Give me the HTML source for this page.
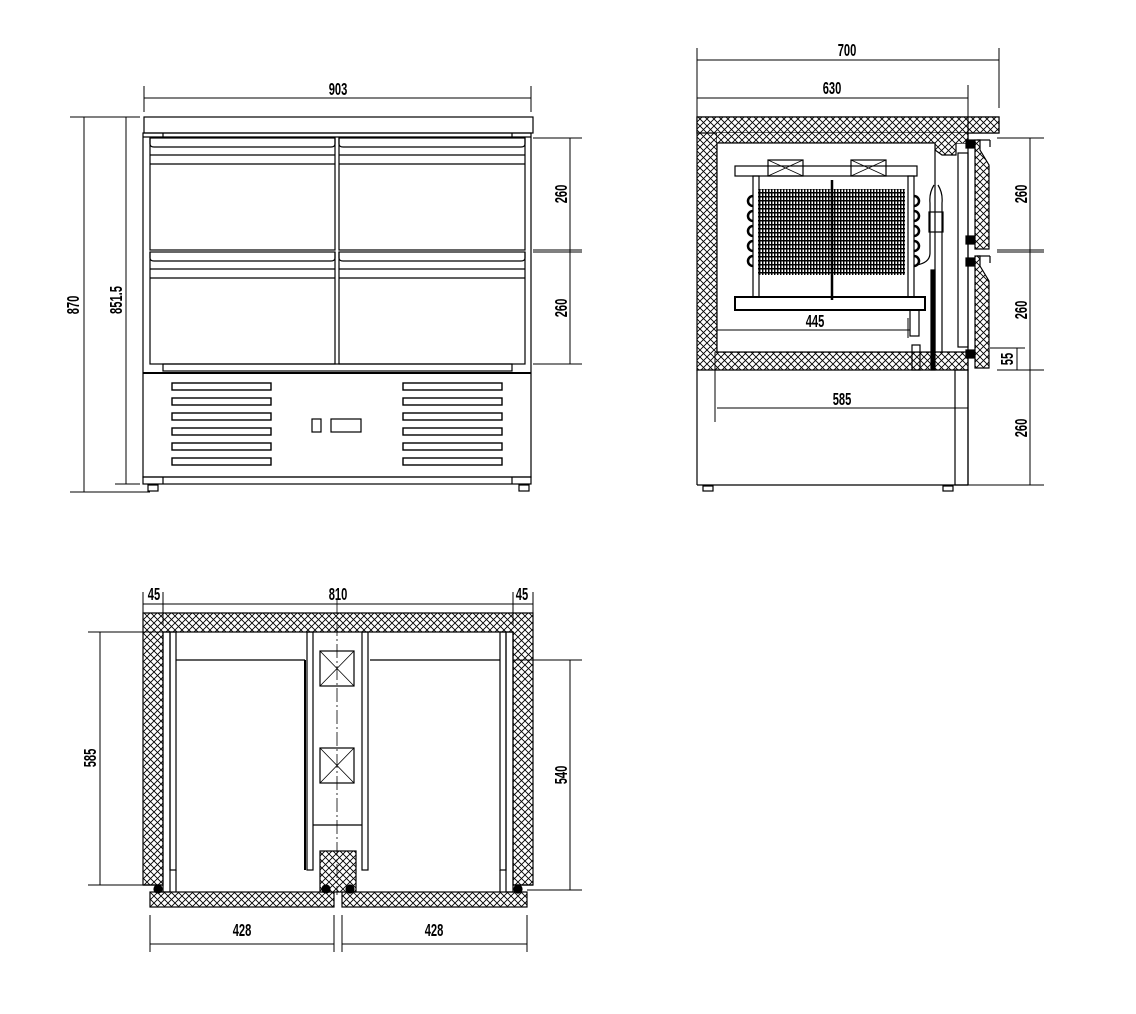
<!DOCTYPE html>
<html><head><meta charset="utf-8"><style>
html,body{margin:0;padding:0;background:#fff;}
svg{display:block;}
text{font-family:"Liberation Sans",sans-serif;font-weight:bold;font-size:18px;fill:#000;}
</style></head><body>
<svg width="1136" height="1014" viewBox="0 0 1136 1014" xmlns="http://www.w3.org/2000/svg">
<defs>
<pattern id="h" width="7" height="7" patternUnits="userSpaceOnUse">
<rect width="7" height="7" fill="#fff"/>
<path d="M0 0L7 7M7 0L0 7" stroke="#000" stroke-width="0.9"/>
</pattern>
<pattern id="g" width="3" height="4" patternUnits="userSpaceOnUse">
<rect width="3" height="4" fill="#fff"/>
<path d="M0.7 0V4M0 0.7H3" stroke="#000" stroke-width="1.5"/>
</pattern>
</defs>
<g fill="none" stroke="#000" stroke-width="1.2">
<!-- ============ FRONT VIEW ============ -->
<rect x="144" y="117" width="389" height="16"/>
<rect x="143" y="133" width="388" height="344"/>
<line x1="163" y1="133" x2="163" y2="137"/><line x1="512" y1="133" x2="512" y2="137"/>
<line x1="143" y1="137" x2="531" y2="137"/>
<g>
<rect x="150" y="138" width="185" height="112"/>
<path d="M150 138v6q0 3 4 3h177q4 0 4-3v-6"/><line x1="150" y1="155" x2="335" y2="155"/><line x1="150" y1="164" x2="335" y2="164"/>
<rect x="339" y="138" width="186" height="112"/>
<path d="M339 138v6q0 3 4 3h178q4 0 4-3v-6"/><line x1="339" y1="155" x2="525" y2="155"/><line x1="339" y1="164" x2="525" y2="164"/>
<rect x="150" y="252" width="185" height="112"/>
<path d="M150 252v6q0 3 4 3h177q4 0 4-3v-6"/><line x1="150" y1="269" x2="335" y2="269"/><line x1="150" y1="278" x2="335" y2="278"/>
<rect x="339" y="252" width="186" height="112"/>
<path d="M339 252v6q0 3 4 3h178q4 0 4-3v-6"/><line x1="339" y1="269" x2="525" y2="269"/><line x1="339" y1="278" x2="525" y2="278"/>
</g>
<rect x="163" y="364" width="349" height="7"/>
<line x1="143" y1="373" x2="531" y2="373" stroke-width="2"/>
<g stroke-width="1.4">
<rect x="172" y="383" width="99" height="7"/><rect x="172" y="398" width="99" height="7"/><rect x="172" y="413" width="99" height="7"/><rect x="172" y="428" width="99" height="7"/><rect x="172" y="443" width="99" height="7"/><rect x="172" y="458" width="99" height="7"/>
<rect x="403" y="383" width="99" height="7"/><rect x="403" y="398" width="99" height="7"/><rect x="403" y="413" width="99" height="7"/><rect x="403" y="428" width="99" height="7"/><rect x="403" y="443" width="99" height="7"/><rect x="403" y="458" width="99" height="7"/>
</g>
<rect x="312" y="419" width="9" height="13"/><rect x="331" y="419" width="30" height="13"/>
<rect x="143" y="477" width="388" height="7"/>
<line x1="163" y1="477" x2="163" y2="484"/><line x1="512" y1="477" x2="512" y2="484"/>
<rect x="148" y="485" width="10" height="6"/><rect x="519" y="485" width="10" height="6"/>
<line x1="144" y1="98" x2="531" y2="98" stroke-width="1"/>
<line x1="144" y1="86" x2="144" y2="112" stroke-width="1"/><line x1="531" y1="86" x2="531" y2="112" stroke-width="1"/>
<line x1="84" y1="117" x2="84" y2="492" stroke-width="1"/>
<line x1="70" y1="117" x2="140" y2="117" stroke-width="1"/><line x1="70" y1="492" x2="150" y2="492" stroke-width="1"/>
<line x1="126" y1="117" x2="126" y2="484" stroke-width="1"/><line x1="115" y1="484" x2="140" y2="484" stroke-width="1"/>
<line x1="570" y1="138" x2="570" y2="364" stroke-width="1"/>
<line x1="533" y1="138" x2="582" y2="138" stroke-width="1"/><line x1="533" y1="250" x2="582" y2="250" stroke-width="1"/><line x1="533" y1="252" x2="582" y2="252" stroke-width="1"/><line x1="533" y1="364" x2="582" y2="364" stroke-width="1"/>

<!-- ============ SIDE VIEW ============ -->
<path d="M697 117H999V133H968V143H935V125H717V352H968V370H697Z" fill="url(#h)"/>
<rect x="697" y="117" width="302" height="16" fill="url(#h)"/>
<rect x="717" y="133" width="250" height="10" fill="url(#h)" stroke="none"/>
<path d="M717 143H935V150L942 155H956V143" fill="url(#h)"/>
<rect x="717" y="143" width="218" height="209" fill="#fff"/>
<line x1="697" y1="370" x2="697" y2="485"/>
<line x1="697" y1="485" x2="968" y2="485"/>
<rect x="955" y="370" width="13" height="115"/>
<line x1="968" y1="117" x2="968" y2="485"/>
<rect x="958" y="153" width="10" height="194"/>
<path d="M975 140H980V150L989 165V249H975Z" fill="url(#h)"/>
<path d="M975 256H980V266L989 281V368H975Z" fill="url(#h)"/>
<rect x="966" y="140" width="8" height="8" fill="#000"/><rect x="966" y="236" width="8" height="8" fill="#000"/>
<rect x="966" y="258" width="8" height="8" fill="#000"/><rect x="966" y="350" width="8" height="8" fill="#000"/>
<line x1="977" y1="140" x2="990" y2="140"/><line x1="990" y1="140" x2="990" y2="147"/>
<line x1="977" y1="256" x2="990" y2="256"/><line x1="990" y1="256" x2="990" y2="263"/>
<rect x="735" y="166" width="182" height="10"/>
<rect x="768" y="160" width="35" height="16"/><path d="M768 160L803 176M803 160L768 176" stroke-width="0.8"/>
<rect x="851" y="160" width="35" height="16"/><path d="M851 160L886 176M886 160L851 176" stroke-width="0.8"/>
<rect x="758" y="189" width="147" height="86" fill="url(#g)" stroke="none"/>
<line x1="832" y1="180" x2="832" y2="300" stroke-width="2.5"/>
<rect x="753" y="176" width="6" height="121"/><rect x="908" y="176" width="6" height="121"/>
<g stroke-width="2.5">
<path d="M753 196a5 5 0 0 0 0 10M753 211a5 5 0 0 0 0 10M753 226a5 5 0 0 0 0 10M753 241a5 5 0 0 0 0 10M753 256a5 5 0 0 0 0 10"/>
<path d="M914 196a5 5 0 0 1 0 10M914 211a5 5 0 0 1 0 10M914 226a5 5 0 0 1 0 10M914 241a5 5 0 0 1 0 10M914 256a5 5 0 0 1 0 10"/>
</g>
<rect x="735" y="297" width="190" height="13" stroke-width="2"/>
<rect x="910" y="310" width="9" height="26"/>
<path d="M934 185q-5 8-4 18v50q0 10-14 12M938 185q5 8 4 18v150"/>
<rect x="929" y="212" width="14" height="20"/>
<rect x="931" y="270" width="4" height="100" fill="#000"/>
<rect x="912" y="345" width="8" height="25"/>
<line x1="697" y1="60" x2="999" y2="60" stroke-width="1"/>
<line x1="697" y1="48" x2="697" y2="117" stroke-width="1"/><line x1="999" y1="48" x2="999" y2="108" stroke-width="1"/>
<line x1="697" y1="98" x2="968" y2="98" stroke-width="1"/><line x1="968" y1="85" x2="968" y2="117" stroke-width="1"/>
<line x1="717" y1="330" x2="910" y2="330" stroke-width="1"/><line x1="908" y1="318" x2="908" y2="338" stroke-width="1"/>
<line x1="717" y1="408" x2="968" y2="408" stroke-width="1"/><line x1="715" y1="352" x2="715" y2="422" stroke-width="1"/>
<line x1="1030" y1="138" x2="1030" y2="485" stroke-width="1"/>
<line x1="997" y1="138" x2="1044" y2="138" stroke-width="1"/><line x1="997" y1="250" x2="1044" y2="250" stroke-width="1"/><line x1="997" y1="252" x2="1044" y2="252" stroke-width="1"/>
<line x1="997" y1="370" x2="1044" y2="370" stroke-width="1"/><line x1="968" y1="485" x2="1044" y2="485" stroke-width="1"/>
<line x1="1017" y1="348" x2="1017" y2="370" stroke-width="1"/><line x1="990" y1="348" x2="1025" y2="348" stroke-width="1"/>
<rect x="703" y="486" width="10" height="5"/><rect x="943" y="486" width="10" height="5"/>

<!-- ============ PLAN VIEW ============ -->
<path d="M143 613H533V885H513V632H163V885H143Z" fill="url(#h)"/>
<rect x="150" y="892" width="184" height="15" fill="url(#h)"/>
<rect x="342" y="892" width="185" height="15" fill="url(#h)"/>
<rect x="320" y="851" width="36" height="41" fill="url(#h)"/>
<rect x="163" y="632" width="7" height="260"/><rect x="170" y="632" width="6" height="238"/>
<rect x="500" y="632" width="6" height="238"/><rect x="506" y="632" width="7" height="260"/>
<rect x="307" y="632" width="6" height="238"/><rect x="362" y="632" width="6" height="238"/>
<line x1="176" y1="660" x2="305" y2="660"/><line x1="370" y1="660" x2="500" y2="660"/>
<line x1="305" y1="660" x2="305" y2="870" stroke-width="2"/>
<line x1="313" y1="825" x2="362" y2="825"/>
<line x1="176" y1="870" x2="176" y2="892"/><line x1="500" y1="870" x2="500" y2="892"/>
<line x1="143" y1="885" x2="163" y2="885"/><line x1="513" y1="885" x2="533" y2="885"/>
<rect x="320" y="651" width="34" height="35"/><path d="M320 651L354 686M354 651L320 686" stroke-width="0.8"/>
<rect x="320" y="748" width="34" height="35"/><path d="M320 748L354 783M354 748L320 783" stroke-width="0.8"/>
<line x1="337" y1="600" x2="337" y2="895" stroke-width="0.8" stroke-dasharray="14 3 2 3"/>
<circle cx="158" cy="889" r="4" fill="#000"/><circle cx="326" cy="889" r="4" fill="#000"/><circle cx="350" cy="889" r="4" fill="#000"/><circle cx="518" cy="889" r="4" fill="#000"/>
<line x1="143" y1="604" x2="533" y2="604" stroke-width="1"/>
<line x1="143" y1="592" x2="143" y2="613" stroke-width="1"/><line x1="163" y1="592" x2="163" y2="625" stroke-width="1"/>
<line x1="513" y1="592" x2="513" y2="625" stroke-width="1"/><line x1="533" y1="592" x2="533" y2="613" stroke-width="1"/>
<line x1="100" y1="632" x2="100" y2="885" stroke-width="1"/>
<line x1="88" y1="632" x2="163" y2="632" stroke-width="1"/><line x1="88" y1="885" x2="143" y2="885" stroke-width="1"/>
<line x1="570" y1="660" x2="570" y2="890" stroke-width="1"/>
<line x1="513" y1="660" x2="582" y2="660" stroke-width="1"/><line x1="527" y1="890" x2="582" y2="890" stroke-width="1"/>
<line x1="150" y1="944" x2="334" y2="944" stroke-width="1"/><line x1="342" y1="944" x2="527" y2="944" stroke-width="1"/>
<line x1="150" y1="915" x2="150" y2="952" stroke-width="1"/><line x1="334" y1="915" x2="334" y2="952" stroke-width="1"/>
<line x1="342" y1="915" x2="342" y2="952" stroke-width="1"/><line x1="527" y1="915" x2="527" y2="952" stroke-width="1"/>
</g>
<g>
<text transform="translate(338 95) scale(0.62 1)" text-anchor="middle">903</text>
<text transform="translate(79 305) rotate(-90) scale(0.62 1)" text-anchor="middle">870</text>
<text transform="translate(122 300) rotate(-90) scale(0.62 1)" text-anchor="middle">851.5</text>
<text transform="translate(567 194) rotate(-90) scale(0.62 1)" text-anchor="middle">260</text>
<text transform="translate(567 308) rotate(-90) scale(0.62 1)" text-anchor="middle">260</text>
<text transform="translate(847 56) scale(0.62 1)" text-anchor="middle">700</text>
<text transform="translate(832 94) scale(0.62 1)" text-anchor="middle">630</text>
<text transform="translate(815 327) scale(0.62 1)" text-anchor="middle">445</text>
<text transform="translate(842 405) scale(0.62 1)" text-anchor="middle">585</text>
<text transform="translate(1027 194) rotate(-90) scale(0.62 1)" text-anchor="middle">260</text>
<text transform="translate(1027 310) rotate(-90) scale(0.62 1)" text-anchor="middle">260</text>
<text transform="translate(1013 359) rotate(-90) scale(0.62 1)" text-anchor="middle">55</text>
<text transform="translate(1027 428) rotate(-90) scale(0.62 1)" text-anchor="middle">260</text>
<text transform="translate(154 600) scale(0.62 1)" text-anchor="middle">45</text>
<text transform="translate(338 600) scale(0.62 1)" text-anchor="middle">810</text>
<text transform="translate(522 600) scale(0.62 1)" text-anchor="middle">45</text>
<text transform="translate(96 758) rotate(-90) scale(0.62 1)" text-anchor="middle">585</text>
<text transform="translate(567 775) rotate(-90) scale(0.62 1)" text-anchor="middle">540</text>
<text transform="translate(242 936) scale(0.62 1)" text-anchor="middle">428</text>
<text transform="translate(434 936) scale(0.62 1)" text-anchor="middle">428</text>
</g>
</svg>
</body></html>
